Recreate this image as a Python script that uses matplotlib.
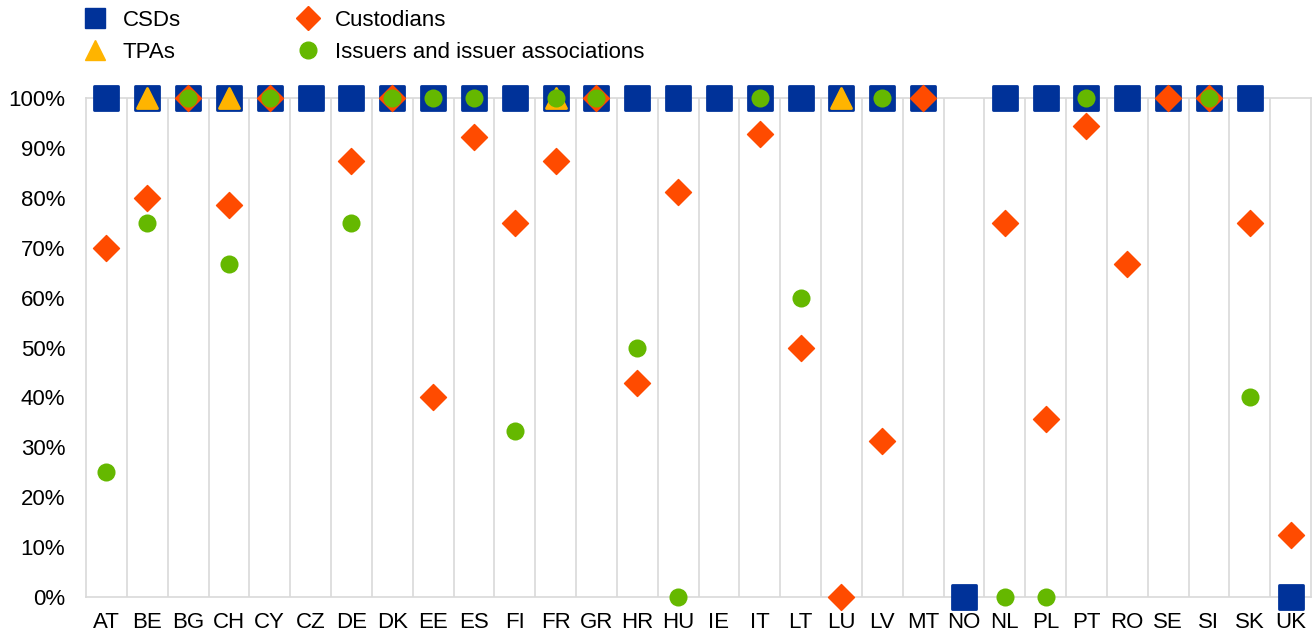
import numpy as np
import matplotlib.pyplot as plt
from matplotlib.lines import Line2D
from matplotlib.markers import MarkerStyle

plt.rcParams['font.family'] = ['Liberation Sans', 'DejaVu Sans']

countries = ['AT', 'BE', 'BG', 'CH', 'CY', 'CZ', 'DE', 'DK', 'EE', 'ES',
             'FI', 'FR', 'GR', 'HR', 'HU', 'IE', 'IT', 'LT', 'LU', 'LV',
             'MT', 'NO', 'NL', 'PL', 'PT', 'RO', 'SE', 'SI', 'SK', 'UK']
nan = np.nan
csds = [100, 100, 100, 100, 100, 100, 100, 100, 100, 100,
        100, 100, 100, 100, 100, 100, 100, 100, 100, 100,
        100, 0, 100, 100, 100, 100, 100, 100, 100, 0]
tpas = [nan, 100, nan, 100, nan, nan, nan, nan, nan, nan,
        nan, 100, nan, nan, nan, nan, nan, nan, 100, nan,
        nan, nan, nan, nan, nan, nan, nan, nan, nan, nan]
custodians = [70, 80, 100, 78.6, 100, nan, 87.5, 100, 40, 92.3,
              75, 87.5, 100, 42.9, 81.2, nan, 92.9, 50, 0, 31.3,
              100, nan, 75, 35.7, 94.4, 66.7, 100, 100, 75, 12.5]
issuers = [25, 75, 100, 66.7, 100, nan, 75, 100, 100, 100,
           33.3, 100, 100, 50, 0, nan, 100, 60, nan, 100,
           nan, nan, 0, 0, 100, nan, nan, 100, 40, nan]

blue = '#003299'
yellow = '#FFB400'
orange = '#FF4B00'
green = '#65B800'

fig = plt.figure(figsize=(13.13, 6.33), dpi=100)
ax = fig.add_axes([0.0655, 0.0569, 0.933, 0.788])


def mk(m):
    return MarkerStyle(m, joinstyle='round')


x = np.arange(len(countries))
ax.plot(x, csds, ls='', marker=mk('s'), ms=17, color=blue, mec=blue, mew=2,
        clip_on=False, zorder=3)
ax.plot(x, tpas, ls='', marker=mk('^'), ms=14, color=yellow, mec=yellow, mew=2,
        clip_on=False, zorder=4)
ax.plot(x, custodians, ls='', marker=mk('D'), ms=13.5, color=orange, mec=orange, mew=1,
        clip_on=False, zorder=5)
ax.plot(x, issuers, ls='', marker='o', ms=13, color=green, mew=0,
        clip_on=False, zorder=6)

ax.set_xlim(-0.5, len(countries) - 0.5)
ax.set_ylim(0, 100)
ax.set_xticks(x)
ax.set_xticklabels(countries, fontsize=16)
ax.set_yticks(np.arange(0, 101, 10))
ax.set_yticklabels([f'{v}%' for v in range(0, 101, 10)], fontsize=16)
ax.tick_params(axis='y', length=0, pad=15)
ax.tick_params(axis='x', length=0, pad=11)
for b in np.arange(0.5, len(countries) - 1, 1):
    ax.axvline(b, color='#d9d9d9', lw=1.2, zorder=1)
for s in ax.spines.values():
    s.set_color('#d9d9d9')
    s.set_linewidth(1.2)

handles = [
    Line2D([], [], marker='s', ls='', ms=14, color=blue),
    Line2D([], [], marker='^', ls='', ms=14, color=yellow),
    Line2D([], [], marker='D', ls='', ms=12, color=orange),
    Line2D([], [], marker='o', ls='', ms=12, color=green),
]
labels = ['CSDs', 'TPAs', 'Custodians', 'Issuers and issuer associations']
fig.legend(handles, labels, ncol=2, loc='upper left', bbox_to_anchor=(0.0625, 0.984),
           frameon=False, fontsize=16, handlelength=1.2, handletextpad=0.64,
           columnspacing=5.1, labelspacing=0.5, borderpad=0, borderaxespad=0)

fig.savefig('out.png', dpi=100)
